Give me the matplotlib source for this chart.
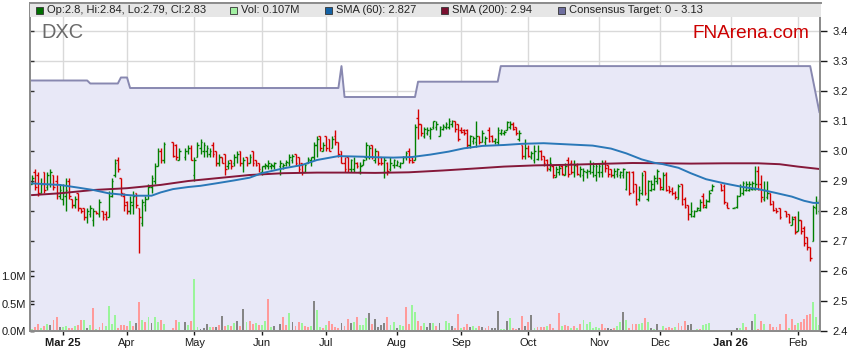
import numpy as np
import matplotlib
matplotlib.use("Agg")
import matplotlib.pyplot as plt
from matplotlib.collections import LineCollection
from matplotlib.patches import Rectangle
from matplotlib.markers import TICKRIGHT

plt.rcParams['font.family'] = ['Liberation Sans', 'DejaVu Sans']

nan = np.nan

# daily bars, one slot per weekday from 17 Feb 2025 (nan = exchange holiday)
op = [2.89, 2.93, 2.92, 2.86, 2.93, 2.88, 2.89, 2.92, 2.90, 2.85,
      2.84, 2.85, 2.90, 2.84, 2.82, 2.86, 2.81, 2.81, 2.78, 2.79,
      2.77, 2.80, 2.79, 2.80, 2.79, 2.78, 2.85, 2.92, 2.97, 2.91,
      2.85, 2.83, 2.80, 2.82, 2.86, 2.81, 2.76, 2.82, 2.84, 2.88,
      2.90, 2.95, 3.00, 2.97, nan, nan, 3.03, 3.02, 2.97, nan,
      2.98, 3.00, 3.01, 2.92, 2.98, 3.01, 3.00, 3.00, 2.99, 3.02,
      3.00, 2.96, 2.98, 2.99, 2.95, 2.97, 2.96, 2.98, 3.00, 2.96,
      2.98, 2.96, 3.00, 2.97, 2.96, 2.93, 2.95, 2.95, 2.95, 2.95,
      nan, 2.95, 2.95, 2.96, 2.96, 2.97, 2.99, 2.98, 2.96, 2.93,
      2.96, 2.97, 2.98, 3.02, 3.05, 3.00, 3.05, 3.04, 3.01, 3.05,
      3.03, 3.00, 2.96, 2.98, 2.94, 2.94, 2.96, 2.93, 2.955, 2.98,
      2.98, 3.02, 2.97, 3.00, 2.98, 2.93, 2.96, 2.94, 2.955, 2.955,
      2.95, 2.96, 2.98, 3.00, 2.98, 2.97, 3.11, 3.09, 3.05, 3.06,
      3.05, 3.08, 3.08, 3.05, 3.075, 3.08, 3.08, 3.09, 3.10, 3.09,
      3.07, 3.07, 3.07, 3.02, 3.035, 3.03, 3.05, 3.03, 3.03, 3.07,
      3.05, 3.035, 3.03, 3.06, 3.06, 3.07, 3.08, 3.09, 3.08, 3.04,
      3.02, 2.985, 3.01, 2.98, 2.97, 2.975, 3.00, 2.985, 2.97, 2.94,
      2.95, 2.915, 2.93, 2.95, 2.92, 2.97, 2.96, 2.93, 2.95, 2.92,
      2.92, 2.93, 2.935, 2.93, 2.92, 2.93, 2.93, 2.96, 2.955, 2.94,
      2.92, 2.925, 2.92, 2.92, 2.875, 2.93, 2.93, 2.89, 2.84, 2.86,
      2.935, 2.84, 2.87, 2.875, 2.90, 2.91, 2.875, 2.925, 2.885, 2.875,
      2.86, 2.84, 2.89, 2.84, 2.82, 2.79, 2.785, 2.80, 2.805, 2.85,
      2.815, 2.835, 2.87, nan, nan, 2.89, 2.885, 2.82, nan, 2.81,
      2.815, 2.85, 2.86, 2.87, 2.87, 2.875, 2.875, 2.935, 2.89, 2.84,
      2.845, 2.86, 2.835, 2.81, 2.81, nan, 2.80, 2.79, 2.755, 2.78,
      2.735, 2.77, 2.745, 2.715, 2.68, 2.70, 2.81, 2.80]

hi = [2.92, 2.94, 2.93, 2.91, 2.93, 2.93, 2.94, 2.92, 2.92, 2.89,
      2.89, 2.91, 2.91, 2.84, 2.85, 2.86, 2.81, 2.81, 2.81, 2.82,
      2.81, 2.80, 2.84, 2.80, 2.80, 2.865, 2.91, 2.975, 2.98, 2.91,
      2.86, 2.835, 2.85, 2.865, 2.86, 2.81, 2.84, 2.85, 2.89, 2.92,
      2.96, 3.01, 3.01, 3.03, nan, nan, 3.03, 3.025, 3.01, nan,
      3.01, 3.02, 3.02, 2.98, 3.03, 3.04, 3.03, 3.02, 3.01, 3.03,
      3.00, 2.99, 2.98, 2.99, 2.97, 2.97, 2.99, 3.00, 3.00, 2.98,
      2.98, 2.99, 3.00, 2.97, 2.96, 2.95, 2.96, 2.97, 2.96, 2.965,
      nan, 2.97, 2.96, 2.97, 2.99, 2.99, 2.99, 2.98, 2.96, 2.96,
      2.98, 2.98, 3.03, 3.05, 3.05, 3.03, 3.05, 3.04, 3.05, 3.07,
      3.03, 3.00, 2.98, 2.98, 2.975, 2.98, 2.965, 2.965, 2.975, 3.03,
      3.02, 3.02, 3.01, 3.00, 2.98, 2.98, 2.965, 2.98, 2.975, 2.97,
      2.965, 2.985, 3.00, 3.01, 2.98, 3.09, 3.14, 3.09, 3.08, 3.08,
      3.08, 3.10, 3.10, 3.085, 3.09, 3.095, 3.11, 3.105, 3.10, 3.09,
      3.08, 3.075, 3.075, 3.055, 3.05, 3.10, 3.05, 3.07, 3.05, 3.08,
      3.055, 3.045, 3.08, 3.075, 3.07, 3.10, 3.10, 3.095, 3.08, 3.07,
      3.02, 3.04, 3.02, 3.00, 3.02, 3.02, 3.005, 2.985, 2.975, 2.98,
      2.955, 2.95, 2.955, 2.955, 2.96, 2.98, 2.97, 2.97, 2.96, 2.95,
      2.945, 2.94, 2.97, 2.965, 2.96, 2.96, 2.97, 2.97, 2.955, 2.94,
      2.945, 2.945, 2.935, 2.945, 2.935, 2.935, 2.935, 2.89, 2.885, 2.93,
      2.935, 2.905, 2.905, 2.92, 2.94, 2.91, 2.93, 2.93, 2.885, 2.88,
      2.865, 2.89, 2.89, 2.845, 2.82, 2.83, 2.805, 2.815, 2.84, 2.86,
      2.84, 2.87, 2.89, nan, nan, 2.89, 2.89, 2.83, nan, 2.815,
      2.855, 2.89, 2.90, 2.90, 2.90, 2.90, 2.95, 2.95, 2.92, 2.90,
      2.90, 2.86, 2.835, 2.81, 2.81, nan, 2.80, 2.79, 2.785, 2.785,
      2.80, 2.77, 2.75, 2.715, 2.68, 2.82, 2.85, 2.84]

lo = [2.89, 2.87, 2.85, 2.86, 2.86, 2.87, 2.88, 2.87, 2.84, 2.84,
      2.82, 2.80, 2.84, 2.81, 2.81, 2.80, 2.795, 2.77, 2.76, 2.78,
      2.75, 2.79, 2.78, 2.77, 2.77, 2.78, 2.845, 2.915, 2.93, 2.85,
      2.80, 2.79, 2.79, 2.79, 2.81, 2.66, 2.75, 2.80, 2.84, 2.86,
      2.89, 2.95, 2.96, 2.96, nan, nan, 2.98, 2.97, 2.97, nan,
      2.97, 2.99, 2.97, 2.90, 2.98, 2.99, 2.98, 2.98, 2.98, 2.98,
      2.95, 2.95, 2.96, 2.92, 2.94, 2.94, 2.95, 2.96, 2.95, 2.93,
      2.95, 2.96, 2.95, 2.95, 2.93, 2.92, 2.94, 2.94, 2.94, 2.94,
      nan, 2.92, 2.94, 2.95, 2.95, 2.96, 2.95, 2.93, 2.92, 2.93,
      2.96, 2.95, 2.97, 2.98, 3.00, 3.00, 3.00, 3.00, 3.01, 3.02,
      2.98, 2.96, 2.93, 2.93, 2.93, 2.93, 2.945, 2.925, 2.955, 2.97,
      2.975, 2.975, 2.96, 2.955, 2.955, 2.91, 2.92, 2.935, 2.945, 2.95,
      2.945, 2.96, 2.97, 2.96, 2.96, 2.97, 3.04, 3.05, 3.045, 3.055,
      3.04, 3.075, 3.07, 3.05, 3.07, 3.075, 3.075, 3.08, 3.065, 3.035,
      3.06, 3.055, 3.01, 3.01, 3.025, 3.015, 3.025, 3.03, 3.02, 3.03,
      3.03, 3.025, 3.02, 3.055, 3.055, 3.07, 3.075, 3.07, 3.055, 3.035,
      2.975, 2.975, 2.98, 2.975, 2.96, 2.97, 2.97, 2.95, 2.935, 2.935,
      2.91, 2.915, 2.92, 2.92, 2.92, 2.915, 2.925, 2.915, 2.92, 2.915,
      2.90, 2.91, 2.925, 2.915, 2.90, 2.915, 2.915, 2.93, 2.915, 2.915,
      2.91, 2.915, 2.91, 2.91, 2.87, 2.855, 2.86, 2.82, 2.835, 2.855,
      2.855, 2.835, 2.865, 2.87, 2.89, 2.87, 2.87, 2.865, 2.86, 2.855,
      2.84, 2.84, 2.82, 2.81, 2.77, 2.78, 2.78, 2.80, 2.80, 2.81,
      2.81, 2.83, 2.865, nan, nan, 2.865, 2.825, 2.81, nan, 2.81,
      2.81, 2.85, 2.855, 2.865, 2.865, 2.87, 2.87, 2.87, 2.83, 2.835,
      2.84, 2.82, 2.80, 2.795, 2.775, nan, 2.78, 2.76, 2.755, 2.725,
      2.735, 2.725, 2.685, 2.67, 2.635, 2.70, 2.79, 2.79]

cl = [2.91, 2.88, 2.86, 2.89, 2.87, 2.92, 2.93, 2.88, 2.86, 2.87,
      2.86, 2.87, 2.85, 2.82, 2.84, 2.81, 2.80, 2.78, 2.80, 2.81,
      2.80, 2.795, 2.83, 2.78, 2.775, 2.85, 2.90, 2.96, 2.94, 2.86,
      2.82, 2.80, 2.83, 2.85, 2.82, 2.78, 2.83, 2.84, 2.88, 2.91,
      2.95, 3.00, 2.97, 3.025, nan, nan, 2.985, 2.98, 3.00, nan,
      3.00, 3.01, 2.97, 2.97, 3.02, 3.03, 3.02, 3.01, 3.00, 2.99,
      2.96, 2.98, 2.96, 2.94, 2.96, 2.95, 2.98, 2.99, 2.96, 2.97,
      2.96, 2.98, 2.96, 2.955, 2.94, 2.95, 2.955, 2.96, 2.955, 2.96,
      nan, 2.96, 2.955, 2.965, 2.98, 2.985, 2.96, 2.94, 2.93, 2.955,
      2.975, 2.98, 3.02, 3.04, 3.01, 3.02, 3.01, 3.00, 3.04, 3.03,
      2.99, 2.96, 2.94, 2.94, 2.97, 2.96, 2.95, 2.95, 2.97, 3.02,
      3.01, 2.98, 3.00, 2.96, 2.96, 2.97, 2.935, 2.96, 2.97, 2.965,
      2.96, 2.98, 2.995, 2.97, 2.965, 3.08, 3.09, 3.06, 3.075, 3.07,
      3.075, 3.10, 3.09, 3.08, 3.085, 3.09, 3.10, 3.10, 3.075, 3.04,
      3.065, 3.06, 3.02, 3.05, 3.045, 3.05, 3.03, 3.06, 3.045, 3.035,
      3.035, 3.04, 3.07, 3.07, 3.065, 3.095, 3.09, 3.075, 3.06, 3.06,
      2.985, 3.01, 2.985, 2.995, 3.00, 3.00, 2.975, 2.96, 2.945, 2.96,
      2.92, 2.94, 2.945, 2.925, 2.95, 2.925, 2.93, 2.955, 2.925, 2.94,
      2.935, 2.935, 2.96, 2.95, 2.95, 2.95, 2.96, 2.945, 2.925, 2.92,
      2.935, 2.94, 2.93, 2.94, 2.93, 2.86, 2.865, 2.825, 2.87, 2.92,
      2.86, 2.90, 2.89, 2.91, 2.935, 2.88, 2.92, 2.87, 2.865, 2.86,
      2.845, 2.885, 2.825, 2.815, 2.79, 2.80, 2.80, 2.81, 2.83, 2.82,
      2.835, 2.86, 2.885, nan, nan, 2.87, 2.83, 2.81, nan, 2.81,
      2.85, 2.885, 2.895, 2.89, 2.89, 2.895, 2.89, 2.875, 2.845, 2.87,
      2.86, 2.825, 2.805, 2.80, 2.78, nan, 2.785, 2.765, 2.775, 2.73,
      2.77, 2.735, 2.695, 2.68, 2.645, 2.815, 2.83, 2.83]

# volume in millions and its colour code: u = up, d = down, n = unchanged
vol = [0.04, 0.08, 0.125, 0.05, 0.09, 0.12, 0.11, 0.20, 0.25, 0.07,
       0.07, 0.10, 0.05, 0.05, 0.09, 0.11, 0.20, 0.20, 0.05, 0.11,
       0.41, 0.04, 0.07, 0.14, 0.10, 0.45, 0.13, 0.29, 0.05, 0.11,
       0.11, 0.10, 0.18, 0.10, 0.14, 0.52, 0.20, 0.17, 0.25, 0.14,
       0.25, 0.17, 0.20, 0.13, nan, nan, 0.05, 0.20, 0.17, nan,
       0.17, 0.11, 0.18, 0.95, 0.08, 0.04, 0.06, 0.12, 0.07, 0.07,
       0.07, 0.11, 0.27, 0.10, 0.11, 0.10, 0.14, 0.18, 0.10, 0.40,
       0.16, 0.18, 0.13, 0.14, 0.11, 0.11, 0.18, 0.59, 0.08, 0.10,
       nan, 0.13, 0.26, 0.11, 0.32, 0.17, 0.10, 0.16, 0.14, 0.10,
       0.07, 0.10, 0.55, 0.38, 0.08, 0.05, 0.11, 0.19, 0.13, 0.08,
       0.05, 0.15, 0.10, 0.22, 0.15, 0.17, 0.26, 0.11, 0.11, 0.23,
       0.32, 0.12, 0.22, 0.08, 0.11, 0.14, 0.26, 0.11, 0.16, 0.05,
       0.11, 0.10, 0.44, 0.12, 0.47, 0.34, 0.18, 0.09, 0.15, 0.07,
       0.15, 0.15, 0.09, 0.15, 0.02, 0.18, 0.15, 0.09, 0.05, 0.31,
       0.05, 0.08, 0.12, 0.08, 0.10, 0.05, 0.10, 0.08, 0.05, 0.10,
       0.06, 0.06, 0.36, 0.03, 0.03, 0.18, 0.24, 0.05, 0.04, 0.05,
       0.27, 0.10, 0.16, 0.29, 0.05, 0.07, 0.07, 0.08, 0.10, 0.12,
       0.06, 0.02, 0.33, 0.10, 0.11, 0.10, 0.06, 0.10, 0.06, 0.12,
       0.20, 0.13, 0.16, 0.06, 0.07, 0.05, 0.13, 0.06, 0.06, 0.04,
       0.06, 0.10, 0.16, 0.35, 0.20, 0.06, 0.13, 0.13, 0.13, 0.15,
       0.24, 0.16, 0.06, 0.04, 0.12, 0.02, 0.10, 0.05, 0.07, 0.06,
       0.07, 0.14, 0.09, 0.18, 0.11, 0.12, 0.02, 0.04, 0.04, 0.11,
       0.13, 0.15, 0.01, nan, nan, 0.01, 0.02, 0.005, nan, 0.01,
       0.06, 0.06, 0.15, 0.08, 0.01, 0.18, 0.31, 0.04, 0.18, 0.13,
       0.02, 0.13, 0.08, 0.08, 0.13, nan, 0.31, 0.05, 0.22, 0.11,
       0.15, 0.16, 0.22, 0.29, 0.31, 0.53, 0.25, 0.107]

vol_dir = ("uddudunddn" "uudduddunu" "dudduuuudd" "ddudndudun"
           "uudu--ddu-" "nuduunnnud" "ndndudundn" "udduduudun"
           "-nddunddud" "dunuududdd" "dnddnuduuu" "ndnnnnduun"
           "uudduuddun" "nudnuuundd" "uddnuudndd" "nnnuunuddn"
           "dndnudddud" "dududdudud" "uuuuuuddnn" "duunuddduu"
           "dununduddd" "udddnnuudu" "uuu--ddd-n" "nuudnnuddu"
           "udddd-dudd" "udddduuu")

# moving averages and consensus target, read at sample days
sma60_day = [0, 5, 9, 15, 20, 25, 29, 34, 39, 42, 46, 51, 55, 60, 66, 71, 75,
             82, 88, 93, 100, 104, 108, 113, 118, 124, 130, 136, 141, 147,
             154, 160, 167, 175, 183, 189, 194, 199, 203, 206, 211, 215, 220,
             226, 232, 237, 242, 248, 252, 255, 257]
sma60 = [2.892, 2.889, 2.887, 2.878, 2.870, 2.859, 2.855, 2.851, 2.851, 2.862,
         2.873, 2.880, 2.884, 2.892, 2.902, 2.911, 2.926, 2.942, 2.953, 2.970,
         2.983, 2.982, 2.981, 2.979, 2.978, 2.980, 2.988, 2.998, 3.009, 3.017,
         3.020, 3.024, 3.026, 3.022, 3.018, 3.008, 2.992, 2.972, 2.961, 2.956,
         2.944, 2.926, 2.906, 2.892, 2.880, 2.873, 2.862, 2.848, 2.834, 2.827,
         2.827]
sma200_day = [0, 9, 20, 31, 42, 51, 60, 71, 82, 93, 102, 112, 123, 134, 145,
              154, 164, 175, 185, 196, 206, 215, 226, 237, 244, 250, 257]
sma200 = [2.853, 2.859, 2.870, 2.876, 2.887, 2.900, 2.909, 2.920, 2.926, 2.928,
          2.928, 2.927, 2.929, 2.935, 2.942, 2.948, 2.952, 2.954, 2.957, 2.960,
          2.959, 2.958, 2.959, 2.959, 2.956, 2.948, 2.940]
target_day = [-1, 18, 19, 28, 29, 31, 32, 100, 101, 102, 125, 126, 152, 153,
              254, 257]
target = [3.235, 3.235, 3.225, 3.225, 3.245, 3.245, 3.21, 3.21, 3.283, 3.18,
          3.18, 3.231, 3.231, 3.283, 3.283, 3.13]

month_day = [10, 31, 53, 75, 96, 119, 140, 162, 185, 205, 228, 250]
month_lbl = ['Mar 25', 'Apr', 'May', 'Jun', 'Jul', 'Aug', 'Sep', 'Oct',
             'Nov', 'Dec', 'Jan 26', 'Feb']
price_ticks = [2.4, 2.5, 2.6, 2.7, 2.8, 2.9, 3.0, 3.1, 3.2, 3.3, 3.4]
vol_ticks = [0.0, 0.5, 1.0]

GREEN, RED = '#008000', '#d40000'
VCOL = {'u': '#9af59a', 'd': '#ff9a9a', 'n': '#858585'}

W, H = 859, 363
fig = plt.figure(figsize=(W / 100, H / 100), dpi=100)
L0, R0, T0, B0 = 30, 820, 3, 331
ax = fig.add_axes([L0 / W, (H - B0) / H, (R0 - L0) / W, (B0 - T0) / H])
ax.set_xlim(-0.67, 257.2)
ax.set_ylim(2.4, 2.4 + (B0 - T0) / 300)

# grid and consensus target area
for d in month_day:
    ax.axvline(d, color='#d9d9d9', lw=1, zorder=0.5)
for p in price_ticks:
    ax.axhline(p, color='#d9d9d9', lw=1, zorder=0.5)
ax.fill_between(target_day, target, 2.3, color='#e8e8f7', lw=0, zorder=1)
ax.plot(target_day, target, color='#8888b0', lw=1.4, zorder=2)

# OHLC bars
o, h, l, c = (np.array(a, dtype=float) for a in (op, hi, lo, cl))
tk = 0.55
segs, cols = [], []
for i in range(len(c)):
    if np.isnan(c[i]):
        continue
    col = GREEN if c[i] >= o[i] else RED
    segs += [[(i, l[i]), (i, h[i])], [(i - tk, o[i]), (i, o[i])],
             [(i, c[i]), (i + tk, c[i])]]
    cols += [col] * 3
ax.add_collection(LineCollection(segs, colors=cols, linewidths=1.0,
                                 capstyle='butt', zorder=3))

ax.plot(sma200_day, sma200, color='#85183a', lw=1.4, zorder=4)
ax.plot(sma60_day, sma60, color='#2a78b8', lw=1.4, zorder=4)

# volume on its own scale
axv = ax.twinx()
axv.set_ylim(0, (B0 - T0) / 55)
v = np.array(vol, dtype=float)
days = np.arange(len(v))
m = ~np.isnan(v)
axv.bar(days[m], v[m], width=0.62, color=[VCOL[vol_dir[i]] for i in days[m]],
        lw=0, zorder=2)

# axes styling
for a in (ax, axv):
    for s in a.spines.values():
        s.set_color('#8c8c8c')
        s.set_linewidth(1.4)
ax.yaxis.tick_right()
ax.set_yticks(price_ticks)
ax.set_yticklabels([f'{p:.1f}' for p in price_ticks])
ax.tick_params(axis='y', length=4.8, width=1, pad=4.5, labelsize=8,
               colors='#1a1a1a')
ax.set_xticks(month_day)
ax.set_xticklabels(month_lbl)
ax.tick_params(axis='x', length=3, width=1, pad=2, labelsize=8,
               colors='#1a1a1a')
for t in ax.get_xticklabels():
    if ' ' in t.get_text():
        t.set_fontweight('bold')
ax.plot(np.zeros(len(price_ticks)), price_ticks, transform=ax.get_yaxis_transform(),
        ls='none', marker=TICKRIGHT, ms=3, mew=1, color='#333333', clip_on=False,
        zorder=5)

axv.yaxis.tick_left()
axv.set_yticks(vol_ticks)
axv.set_yticklabels([f'{t:.1f}M' for t in vol_ticks])
axv.tick_params(axis='y', direction='in', length=3, width=1, pad=3,
                labelsize=8, colors='#1a1a1a')


def fx(x):
    return x / W


def fy(y):
    return 1 - y / H


# legend band
fig.patches.append(Rectangle((fx(30), fy(16.7)), (821 - 30) / W, 14 / H,
                             transform=fig.transFigure, facecolor='#e6e6e6',
                             edgecolor='none', zorder=5))
fig.lines.append(plt.Line2D([fx(30), fx(821)], [fy(3), fy(3)],
                            transform=fig.transFigure, color='#8c8c8c', lw=1.4,
                            zorder=6))
legend_items = [
    (36, '#006f00', 'Op:2.8, Hi:2.84, Lo:2.79, Cl:2.83'),
    (230, '#a2f0a2', 'Vol: 0.107M'),
    (325, '#1462a5', 'SMA (60): 2.827'),
    (441, '#7a1030', 'SMA (200): 2.94'),
    (558, '#6f6f9f', 'Consensus Target: 0 - 3.13'),
]
for x, colr, txt in legend_items:
    fig.patches.append(Rectangle((fx(x), fy(13.5)), 7 / W, 7 / H,
                                 transform=fig.transFigure, facecolor=colr,
                                 edgecolor='#333333', lw=0.6, zorder=7))
    fig.text(fx(x + 11), fy(10), txt, fontsize=8, color='#222222',
             va='center', ha='left', zorder=7)

fig.text(fx(41), fy(38), 'DXC', fontsize=14.4, color='#6a6a6a', va='baseline')
fig.text(fx(693), fy(38.5), 'FNArena.com', fontsize=13.7, color='#cc0000',
         va='baseline')

assert len(vol_dir) == len(vol) == len(cl)
fig.savefig('out.png', dpi=100)
